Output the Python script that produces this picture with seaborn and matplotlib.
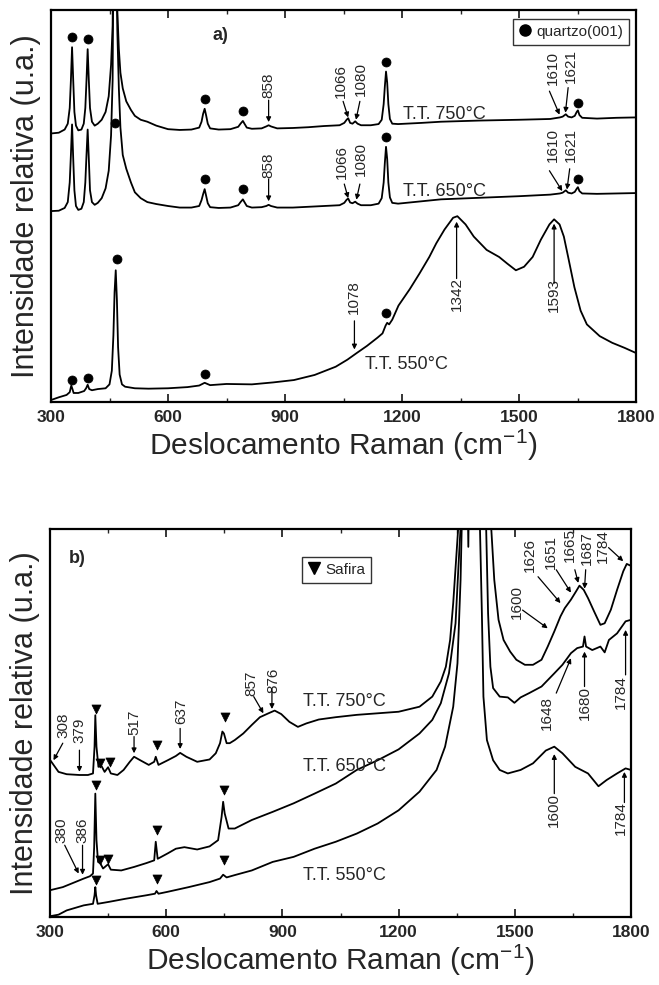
import matplotlib
matplotlib.use("Agg")
import matplotlib.pyplot as plt
import seaborn as sns
from matplotlib.lines import Line2D

# ---------------- data : panel a) ----------------
a750_x = [300, 320, 335, 343, 348, 351, 354, 357, 360, 364, 370, 378, 384, 388, 391, 394, 397, 400, 405, 412,
          420, 430, 440, 448, 454, 458, 461, 466, 470, 474, 478, 484, 493, 505, 515, 530, 547, 570, 600, 630,
          660, 680, 686, 690, 694, 698, 702, 708, 730, 760, 780, 786, 792, 796, 802, 815, 840, 852, 858, 864,
          880, 920, 960, 1000, 1040, 1052, 1058, 1062, 1067, 1073, 1080, 1086, 1095, 1120, 1140, 1148, 1153,
          1156, 1159, 1162, 1165, 1169, 1175, 1190, 1250, 1300, 1400, 1500, 1580, 1605, 1612, 1620, 1626,
          1635, 1643, 1648, 1651, 1655, 1662, 1700, 1750, 1800]
a750_y = [68.5, 68.7, 69.5, 71, 75, 82, 90.5, 82, 74, 70.5, 69.3, 69.5, 71, 75, 82, 90, 82, 75, 71.5, 70.5,
          71, 72, 74, 78, 86, 96, 130, 130, 100, 90, 84, 80, 76.7, 74.5, 73, 72, 71.5, 70.5, 69.6, 69.4,
          69.5, 70, 71.5, 73.5, 74.8, 73, 71, 69.8, 69.5, 69.6, 70.2, 71, 71.7, 71, 70, 69.7, 69.8, 70.3, 70.6, 70.3,
          69.8, 69.9, 70.1, 70.4, 70.6, 71.2, 72.0, 72.4, 71.2, 71.0, 71.6, 71.0, 70.6, 70.6, 70.9, 72, 76,
          80.5, 84.3, 81.5, 76, 72.2, 71, 70.9, 71.2, 71.5, 71.8, 72.0, 72.2, 72.6, 72.8, 73.4, 72.8,
          72.6, 73.0, 74.0, 74.4, 73.2, 72.5, 72.3, 72.5, 72.6]

a650_x = a750_x
a650_y = [48.7, 48.8, 49.5, 51, 56, 63, 70.8, 62, 54, 50, 49, 49.3, 51, 56, 63, 69.5, 62, 54, 51, 50.3,
          50.8, 52, 54.5, 59, 68, 82, 130, 130, 95, 80, 70, 63, 59.5, 56, 53.5, 52, 51, 50.5, 50, 49.6,
          49.6, 50, 51.5, 53, 54.3, 52.5, 50.7, 49.7, 49.5, 49.6, 50.2, 51, 51.7, 51, 50, 49.6, 49.7, 50, 50.3, 50,
          49.6, 49.6, 49.8, 50.0, 50.2, 50.8, 51.6, 51.9, 50.9, 50.7, 51.1, 50.6, 50.2, 50.2, 50.6, 52, 56,
          61, 65.1, 62, 56, 52.2, 50.8, 50.6, 51.2, 51.7, 52.1, 52.5, 52.9, 53.2, 53.4, 54.0, 53.4,
          53.2, 53.6, 54.4, 54.8, 53.8, 53.2, 53.1, 53.2, 53.3]

a550_x = [300, 320, 340, 348, 352, 355, 358, 370, 385, 390, 394, 398, 405, 420, 440, 450, 456, 460, 463, 466,
          469, 472, 476, 482, 490, 515, 550, 600, 650, 680, 694, 708, 750, 815, 870, 923, 976, 1030, 1060, 1084,
          1110, 1137, 1150, 1158, 1162, 1167, 1175, 1191, 1220, 1245, 1270, 1288, 1309, 1331, 1342, 1363, 1384,
          1417, 1449, 1470, 1492, 1513, 1535, 1556, 1578, 1590, 1604, 1615, 1626, 1642, 1658, 1674, 1707,
          1739, 1771, 1800]
a550_y = [0.5, 1.2, 1.8, 2.5, 4.2, 3.3, 2.3, 2.3, 2.8, 3.5, 4.4, 3.3, 3.0, 3.3, 3.5, 4.5, 8, 17, 28, 33.6,
          26, 14, 7, 4.5, 3.9, 3.5, 3.4, 3.5, 3.8, 4.2, 4.9, 4.3, 4.6, 4.5, 5.0, 5.6, 6.9, 9.0, 10.8, 12.5,
          14.3, 16.4, 17.5, 19.5, 20.2, 19.8, 21, 24.6, 28.8, 32.8, 37.0, 40.5, 44, 47, 47.4, 45.3, 42.2,
          38.8, 37.0, 35.3, 33.6, 34.5, 37.0, 41.4, 45.3, 46.6, 45.3, 42.2, 37.0, 29.3, 23.3, 19.8, 16.8,
          15.1, 13.8, 12.5]

# ---------------- data : panel b) ----------------
b750_x = [300, 322, 343, 376, 398, 411, 415, 417, 420, 425, 433, 441, 450, 457, 474, 490, 506, 517, 533, 555,
          569, 573, 580, 604, 625, 636, 652, 680, 712, 728, 739, 745, 749, 756, 764, 777, 799, 821, 842, 864,
          880, 897, 918, 940, 962, 994, 1038, 1092, 1146, 1200, 1254, 1287, 1309, 1322, 1333, 1341, 1349,
          1354, 1365, 1430, 1439, 1447, 1458, 1471, 1488, 1504, 1526, 1547, 1569, 1585, 1602, 1618, 1629,
          1645, 1658, 1667, 1678, 1689, 1705, 1721, 1732, 1748, 1764, 1780, 1789, 1800]
b750_y = [40.5, 37.4, 36.8, 36.6, 36.6, 37.0, 43.9, 52.0, 43.9, 38.7, 38.9, 37.4, 38.6, 37.0, 36.6, 37.9, 40.0,
          41.3, 40.4, 39.2, 40.0, 41.3, 39.2, 40.4, 41.5, 42.3, 41.3, 40.0, 40.6, 42.2, 44.8, 47.8, 47.3, 44.8,
          44.8, 45.6, 47.3, 49.5, 51.5, 52.5, 53.2, 52.3, 50.3, 49.0, 49.9, 50.9, 51.5, 52.1, 52.5, 52.9, 54.2,
          56.8, 60.7, 64.5, 71.4, 80.9, 92.9, 100.5, 130, 130, 100.5, 86.9, 76.6, 71.4, 68.4, 66.3, 65.0, 65.0,
          66.3, 69.7, 73.6, 77.5, 79.6, 81.8, 83.9, 85.4, 84.3, 82.2, 78.7, 75.3, 75.7, 79.2, 84.3, 89.1,
          91.0, 90.5]

b650_x = [300, 333, 365, 387, 403, 411, 414, 417, 420, 424, 430, 437, 450, 457, 484, 517, 549, 569, 573, 578,
          604, 625, 647, 680, 712, 734, 743, 747, 751, 761, 777, 821, 875, 929, 983, 1038, 1092, 1146, 1200,
          1254, 1287, 1309, 1330, 1347, 1355, 1360, 1376, 1380, 1384, 1420, 1426, 1431, 1437, 1444, 1461,
          1482, 1499, 1515, 1537, 1569, 1602, 1623, 1645, 1661, 1676, 1680, 1684, 1700, 1721, 1732, 1743,
          1764, 1786, 1800]
b650_y = [6.9, 7.7, 9.0, 9.9, 10.5, 11.2, 18.0, 31.8, 19.8, 14.2, 13.8, 12.5, 13.6, 12.2, 12.0, 12.9, 13.9,
          14.6, 19.4, 15.0, 16.4, 17.6, 18.0, 17.4, 18.2, 19.8, 25.8, 29.7, 26.7, 22.8, 22.8, 25.0, 27.1, 29.3,
          31.8, 34.4, 37.9, 40.4, 43.2, 47.3, 50.8, 55.1, 62.8, 75.7, 91.2, 100.5, 130, 95.4, 130, 130, 100.5,
          78.3, 64.5, 59.0, 56.8, 56.6, 55.2, 56.6, 57.7, 59.4, 62.8, 65.0, 68.0, 69.3, 69.7, 72.3, 69.7, 68.8,
          69.7, 68.2, 71.4, 73.1, 76.2, 76.6]

b550_x = [300, 322, 343, 387, 411, 415, 417, 419, 423, 452, 495, 549, 571, 575, 580, 604, 658, 712, 739, 747,
          756, 777, 821, 875, 929, 983, 1038, 1092, 1146, 1200, 1254, 1298, 1320, 1341, 1352, 1360, 1363,
          1405, 1410, 1415, 1419, 1428, 1444, 1461, 1482, 1515, 1547, 1580, 1602, 1623, 1656, 1689, 1716,
          1737, 1764, 1786, 1800]
b550_y = [0.2, 0.6, 1.7, 3.0, 3.4, 5.6, 7.7, 5.6, 3.4, 3.9, 4.7, 5.6, 6.0, 6.7, 6.0, 6.5, 7.7, 9.0, 9.9, 10.9,
          10.2, 10.8, 12.0, 14.2, 15.5, 17.6, 19.4, 21.5, 24.1, 27.5, 32.3, 37.9, 43.9, 54.2, 65.4, 86.9, 100.5,
          130, 100.5, 78.3, 56.8, 45.6, 40.4, 37.9, 37.0, 37.9, 39.6, 42.9, 43.9, 42.2, 38.7, 37.0, 33.7, 35.3,
          37.0, 38.3, 37.9]

# markers (peak assignments)
quartz_x = [354, 394, 694, 792, 1160, 1651, 463, 694, 792, 1160, 1651, 354, 394, 468, 694, 1160]
quartz_y = [93.0, 92.5, 77.2, 74.2, 86.8, 76.3, 71.1, 57.0, 54.3, 67.7, 57.0, 5.7, 6.2, 36.4, 7.1, 22.6]
safira_x = [419, 430, 454, 577, 752, 419, 430, 450, 577, 750, 419, 577, 750]
safira_y = [53.5, 39.8, 40.0, 44.3, 51.5, 34.0, 14.6, 15.0, 22.4, 32.7, 9.5, 9.9, 14.6]

# annotations: label, text x, text y, arrow start x, y, arrow end x, y
annot_a = [("858", 858, 80.9, 858, 77.0, 858, 71.4),
           ("1066", 1043, 82.0, 1049, 76.7, 1062, 72.6),
           ("1080", 1094, 82.5, 1092, 76.7, 1082, 72.0),
           ("1610", 1586, 85.3, 1578, 79.3, 1604, 73.3),
           ("1621", 1633, 85.8, 1626, 80.2, 1619, 73.8),
           ("858", 858, 60.3, 858, 56.9, 858, 51.2),
           ("1066", 1046, 61.2, 1052, 55.6, 1062, 52.0),
           ("1080", 1094, 62.0, 1092, 55.6, 1083, 51.6),
           ("1610", 1586, 65.5, 1578, 59.0, 1611, 53.8),
           ("1621", 1633, 65.5, 1630, 59.5, 1623, 54.2),
           ("1078", 1077, 26.7, 1078, 20.7, 1078, 13.4),
           ("1342", 1340, 27.6, 1340, 31.5, 1340, 46.0),
           ("1593", 1590, 27.2, 1590, 30.3, 1590, 45.5)]
annot_b = [("308", 335, 49.5, 333, 44.8, 309, 40.4),
           ("379", 376, 48.2, 376, 43.0, 376, 37.4),
           ("517", 517, 50.3, 517, 46.5, 517, 42.2),
           ("637", 638, 52.9, 636, 48.6, 636, 43.3),
           ("857", 821, 60.2, 826, 56.8, 851, 52.5),
           ("876", 877, 61.1, 873, 58.9, 873, 53.6),
           ("380", 330, 22.4, 338, 18.5, 374, 11.2),
           ("386", 384, 22.4, 384, 18.5, 384, 10.9),
           ("1600", 1506, 81.3, 1520, 79.1, 1585, 74.4),
           ("1626", 1539, 93.3, 1560, 87.7, 1618, 80.9),
           ("1651", 1594, 94.2, 1607, 89.5, 1645, 83.6),
           ("1665", 1642, 96.0, 1655, 89.5, 1664, 86.1),
           ("1687", 1686, 95.1, 1683, 89.5, 1680, 84.6),
           ("1784", 1728, 95.6, 1742, 95.2, 1780, 91.7),
           ("1648", 1583, 52.5, 1607, 57.7, 1645, 66.7),
           ("1680", 1680, 55.1, 1680, 59.4, 1680, 68.4),
           ("1784", 1773, 57.9, 1786, 62.4, 1786, 74.0),
           ("1600", 1602, 27.5, 1602, 31.8, 1602, 42.0),
           ("1784", 1773, 25.4, 1783, 29.5, 1783, 37.4)]
labels_a = [("T.T. 750°C", 1202, 73.3), ("T.T. 650°C", 1202, 53.6), ("T.T. 550°C", 1105, 9.5)]
labels_b = [("T.T. 750°C", 953, 55.5), ("T.T. 650°C", 953, 38.7), ("T.T. 550°C", 953, 10.8)]
xticks = [300, 600, 900, 1200, 1500, 1800]

# ---------------- figure ----------------
sns.set_theme(style="ticks")
plt.rcParams["font.family"] = ["Liberation Sans", "DejaVu Sans"]
plt.rcParams["mathtext.fontset"] = "custom"
plt.rcParams["mathtext.rm"] = "Liberation Sans"
plt.rcParams["mathtext.it"] = "Liberation Sans:italic"
plt.rcParams["mathtext.bf"] = "Liberation Sans:bold"
NARROW = ["Liberation Sans Narrow", "Liberation Sans", "DejaVu Sans"]

fig = plt.figure(figsize=(6.59, 9.85), dpi=100)
ax_a = fig.add_axes([51 / 659, 1 - 402 / 985, 585 / 659, 392 / 985])
ax_b = fig.add_axes([50 / 659, 1 - 917 / 985, 581 / 659, 388 / 985])

LW = 1.3
for xs, ys in [(a750_x, a750_y), (a650_x, a650_y), (a550_x, a550_y)]:
    sns.lineplot(x=xs, y=ys, ax=ax_a, color="black", lw=LW, estimator=None, sort=False)
for xs, ys in [(b750_x, b750_y), (b650_x, b650_y), (b550_x, b550_y)]:
    sns.lineplot(x=xs, y=ys, ax=ax_b, color="black", lw=LW, estimator=None, sort=False)

sns.scatterplot(x=quartz_x, y=quartz_y, ax=ax_a, color="black", marker="o", s=42, edgecolor="black", zorder=5)
sns.scatterplot(x=safira_x, y=safira_y, ax=ax_b, color="black", marker="v", s=42, edgecolor="black", zorder=5)


def annotate(ax, items):
    for lab, tx, ty, x0, y0, x1, y1 in items:
        ax.text(tx, ty, lab, rotation=90, ha="center", va="center", fontsize=11, family=NARROW)
        ax.annotate("", xy=(x1, y1), xytext=(x0, y0),
                    arrowprops=dict(arrowstyle="-|>", color="black", lw=0.9,
                                    mutation_scale=7, shrinkA=0, shrinkB=0))


annotate(ax_a, annot_a)
annotate(ax_b, annot_b)
for lab, x, y in labels_a:
    ax_a.text(x, y, lab, ha="left", va="center", fontsize=13, family=NARROW)
for lab, x, y in labels_b:
    ax_b.text(x, y, lab, ha="left", va="center", fontsize=13, family=NARROW)

ax_a.text(735, 93.5, "a)", ha="center", va="center", fontsize=13, fontweight="bold")
ax_b.text(370, 92.5, "b)", ha="center", va="center", fontsize=13, fontweight="bold")

h_q = Line2D([], [], marker="o", color="black", ls="", markersize=8)
leg = ax_a.legend([h_q], ["quartzo(001)"], loc="upper right", bbox_to_anchor=(0.988, 0.978),
                  prop=dict(size=11, family=NARROW), frameon=True, fancybox=False, edgecolor="black",
                  handlelength=0.8, handletextpad=0.3, borderpad=0.4, borderaxespad=0)
leg.get_frame().set_linewidth(1.0)
h_s = Line2D([], [], marker="v", color="black", ls="", markersize=8)
leg = ax_b.legend([h_s], ["Safira"], loc="upper left", bbox_to_anchor=(0.434, 0.929),
                  prop=dict(size=11, family=NARROW), frameon=True, fancybox=False, edgecolor="black",
                  handlelength=0.8, handletextpad=0.3, borderpad=0.4, borderaxespad=0)
leg.get_frame().set_linewidth(1.0)

for ax in (ax_a, ax_b):
    ax.set_xlim(300, 1800)
    ax.set_ylim(0, 100)
    ax.set_xticks(xticks)
    ax.set_xticks([450, 750, 1050, 1350, 1650], minor=True)
    ax.set_yticks([])
    ax.tick_params(axis="x", which="both", direction="in", top=True, bottom=True)
    ax.tick_params(axis="x", which="major", length=6, width=1.3, pad=6)
    ax.tick_params(axis="x", which="minor", length=3, width=1.0)
    for lab in ax.get_xticklabels():
        lab.set_fontweight("bold")
        lab.set_fontsize(12.5)
    for sp in ax.spines.values():
        sp.set_visible(True)
        sp.set_linewidth(1.6)
        sp.set_color("black")
    ax.set_xlabel("Deslocamento Raman (cm$^{-1}$)", fontsize=21.5, labelpad=2)
    ax.set_ylabel("Intensidade relativa (u.a.)", fontsize=22, labelpad=7)

fig.savefig("out.png", dpi=100, facecolor="white")
